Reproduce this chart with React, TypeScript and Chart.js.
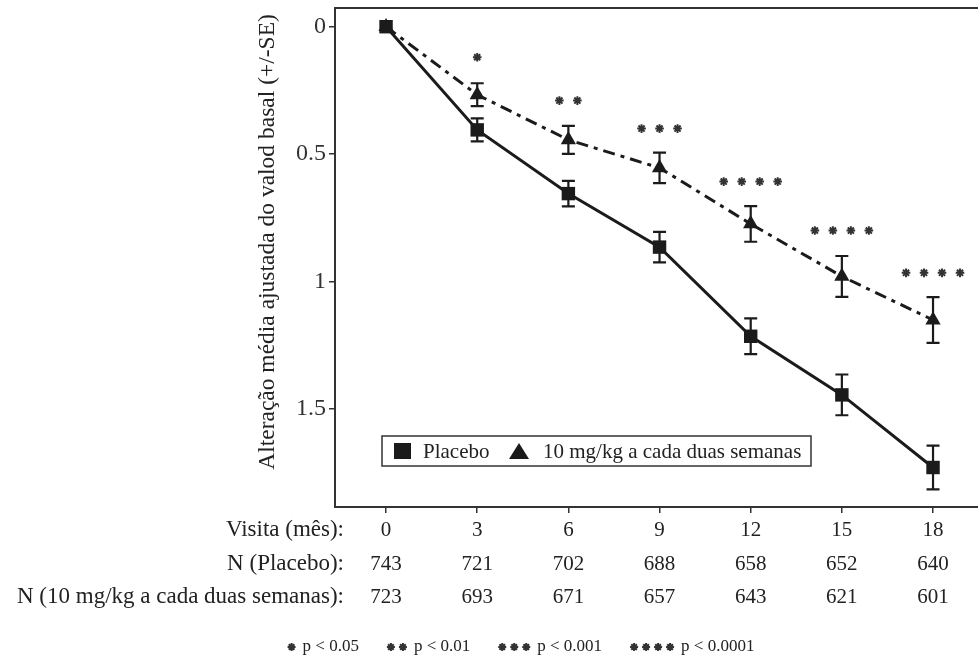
import React, { useEffect, useRef } from 'react';
import { Chart, registerables } from 'chart.js';

Chart.register(...registerables);

// ---- data ----
const months = [0, 3, 6, 9, 12, 15, 18];
const placeboMean = [0, 0.405, 0.655, 0.865, 1.215, 1.445, 1.73];
const placeboSE = [0, 0.045, 0.05, 0.06, 0.07, 0.08, 0.086];
const drugMean = [0, 0.267, 0.444, 0.554, 0.774, 0.98, 1.151];
const drugSE = [0, 0.045, 0.055, 0.06, 0.07, 0.08, 0.09];
const starCounts = [0, 1, 2, 3, 4, 4, 4];
const starLevels = [0, 0.12, 0.29, 0.4, 0.608, 0.8, 0.966];
const nPlacebo = [743, 721, 702, 688, 658, 652, 640];
const nDrug = [723, 693, 671, 657, 643, 621, 601];
const yTicks = [0, 0.5, 1, 1.5];
const seriesNames = ['Placebo', '10 mg/kg a cada duas semanas'];
const rowLabels = ['Visita (mês):', 'N (Placebo):', 'N (10 mg/kg a cada duas semanas):'];
const footStars = [1, 2, 3, 4];
const footTexts = ['p < 0.05', 'p < 0.01', 'p < 0.001', 'p < 0.0001'];
const yTitle = 'Alteração média ajustada do valod basal (+/-SE)';

const W = 978;
const H = 661;
const serif = '"Liberation Serif", "Times New Roman", serif';
const ink = '#1b1b1b';
const textInk = '#222';

function asterisk(ctx: CanvasRenderingContext2D, x: number, y: number, r: number) {
  ctx.beginPath();
  for (let k = 0; k < 4; k++) {
    const a = (k * Math.PI) / 4;
    ctx.moveTo(x + Math.cos(a) * r, y + Math.sin(a) * r);
    ctx.lineTo(x - Math.cos(a) * r, y - Math.sin(a) * r);
  }
  ctx.stroke();
}

export default function App() {
  const ref = useRef<HTMLCanvasElement>(null);

  useEffect(() => {
    const canvas = ref.current;
    if (!canvas) return;

    const overlay = {
      id: 'overlay',
      beforeDatasetsDraw(chart: any) {
        const { ctx, chartArea, scales } = chart;
        const x = scales.x;
        const y = scales.y;
        ctx.save();
        ctx.strokeStyle = '#333';
        ctx.lineWidth = 2;
        ctx.beginPath();
        ctx.moveTo(chartArea.left, chartArea.top);
        ctx.lineTo(chartArea.right, chartArea.top);
        ctx.stroke();

        ctx.strokeStyle = ink;
        ctx.lineWidth = 2.2;
        const sets: [number[], number[]][] = [
          [placeboMean, placeboSE],
          [drugMean, drugSE],
        ];
        sets.forEach(([m, se]) => {
          months.forEach((mo, i) => {
            if (!se[i]) return;
            const px = x.getPixelForValue(mo);
            const y1 = y.getPixelForValue(m[i] - se[i]);
            const y2 = y.getPixelForValue(m[i] + se[i]);
            ctx.beginPath();
            ctx.moveTo(px, y1);
            ctx.lineTo(px, y2);
            ctx.moveTo(px - 6.5, y1);
            ctx.lineTo(px + 6.5, y1);
            ctx.moveTo(px - 6.5, y2);
            ctx.lineTo(px + 6.5, y2);
            ctx.stroke();
          });
        });
        ctx.restore();
      },
      afterDraw(chart: any) {
        const { ctx, scales } = chart;
        const x = scales.x;
        const y = scales.y;
        ctx.save();

        // significance stars
        ctx.strokeStyle = '#333';
        ctx.lineWidth = 2;
        months.forEach((mo, i) => {
          const n = starCounts[i];
          if (!n) return;
          const cx = x.getPixelForValue(mo);
          const cy = y.getPixelForValue(starLevels[i]);
          for (let k = 0; k < n; k++) {
            asterisk(ctx, cx + (k - (n - 1) / 2) * 18, cy, 4.3);
          }
        });

        // legend box
        ctx.strokeStyle = '#333';
        ctx.lineWidth = 1.5;
        ctx.strokeRect(382, 436, 429, 30);
        ctx.fillStyle = ink;
        ctx.fillRect(394, 443, 17, 16);
        ctx.beginPath();
        ctx.moveTo(519, 443);
        ctx.lineTo(529, 459);
        ctx.lineTo(509, 459);
        ctx.closePath();
        ctx.fill();
        ctx.fillStyle = textInk;
        ctx.font = `21px ${serif}`;
        ctx.textAlign = 'left';
        ctx.textBaseline = 'middle';
        ctx.fillText(seriesNames[0], 423, 452);
        ctx.fillText(seriesNames[1], 543, 452);

        // y title
        ctx.save();
        ctx.translate(268, 242);
        ctx.rotate(-Math.PI / 2);
        ctx.font = `23.5px ${serif}`;
        ctx.textAlign = 'center';
        ctx.textBaseline = 'middle';
        ctx.fillText(yTitle, 0, 0);
        ctx.restore();

        // table under the axis
        const rowY = [530, 564, 597];
        ctx.font = `23px ${serif}`;
        ctx.textAlign = 'right';
        ctx.textBaseline = 'middle';
        rowLabels.forEach((t, r) => ctx.fillText(t, 344, rowY[r]));
        ctx.font = `21px ${serif}`;
        ctx.textAlign = 'center';
        const rows = [months, nPlacebo, nDrug];
        rows.forEach((vals, r) => {
          vals.forEach((v, i) => {
            ctx.fillText(String(v), x.getPixelForValue(months[i]), rowY[r]);
          });
        });

        // footnote
        ctx.font = `17px ${serif}`;
        ctx.textAlign = 'left';
        const starGap = 12;
        const afterStars = 7;
        const groupGap = 28;
        let total = 0;
        footStars.forEach((n, g) => {
          total += (n - 1) * starGap + 8 + afterStars + ctx.measureText(footTexts[g]).width;
          if (g < footStars.length - 1) total += groupGap;
        });
        let fx = 521 - total / 2;
        const fy = 647;
        ctx.strokeStyle = '#333';
        ctx.lineWidth = 2;
        footStars.forEach((n, g) => {
          for (let k = 0; k < n; k++) {
            asterisk(ctx, fx + 4 + k * starGap, fy, 4);
          }
          fx += (n - 1) * starGap + 8 + afterStars;
          ctx.fillText(footTexts[g], fx, fy);
          fx += ctx.measureText(footTexts[g]).width + groupGap;
        });

        ctx.restore();
      },
    };

    const chart = new Chart(canvas, {
      type: 'line',
      data: {
        datasets: [
          {
            label: seriesNames[0],
            data: months.map((m, i) => ({ x: m, y: placeboMean[i] })),
            borderColor: ink,
            backgroundColor: ink,
            borderWidth: 3,
            pointStyle: 'rect',
            pointRadius: 9.5,
            pointBorderWidth: 0,
            pointBackgroundColor: ink,
            tension: 0,
          },
          {
            label: seriesNames[1],
            data: months.map((m, i) => ({ x: m, y: drugMean[i] })),
            borderColor: ink,
            backgroundColor: ink,
            borderWidth: 3,
            borderDash: [12, 6, 4, 6],
            pointStyle: 'triangle',
            pointRadius: 8.8,
            pointBorderWidth: 0,
            pointBackgroundColor: ink,
            tension: 0,
          },
        ],
      },
      options: {
        responsive: false,
        animation: false,
        events: [],
        layout: { autoPadding: false, padding: { top: 8, left: 0, right: 0, bottom: 0 } },
        plugins: { legend: { display: false }, tooltip: { enabled: false } },
        scales: {
          x: {
            type: 'linear',
            min: -1.68,
            max: 19.48,
            afterBuildTicks: (s: any) => {
              s.ticks = months.map((v) => ({ value: v }));
            },
            afterFit: (s: any) => {
              s.height = 154;
              s.paddingLeft = 0;
              s.paddingRight = 0;
            },
            ticks: { display: false },
            grid: { drawOnChartArea: false, drawTicks: true, tickLength: 6, color: '#333', lineWidth: 1.5 },
            border: { display: true, color: '#333', width: 2 },
          },
          y: {
            type: 'linear',
            reverse: true,
            min: -0.0734,
            max: 1.885,
            afterBuildTicks: (s: any) => {
              s.ticks = yTicks.map((v) => ({ value: v }));
            },
            afterFit: (s: any) => {
              s.width = 335;
              s.paddingTop = 0;
              s.paddingBottom = 0;
            },
            ticks: {
              color: '#333',
              font: { family: serif, size: 24 },
              padding: 3,
              callback: (v: any) => String(v),
            },
            grid: { drawOnChartArea: false, drawTicks: true, tickLength: 6, color: '#333', lineWidth: 1.5 },
            border: { display: true, color: '#333', width: 2 },
          },
        },
      },
      plugins: [overlay],
    } as any);

    return () => chart.destroy();
  }, []);

  return (
    <div style={{ position: 'fixed', left: 0, top: 0, width: W, height: H, background: '#fff' }}>
      <canvas ref={ref} width={W} height={H} style={{ display: 'block', width: W, height: H }} />
    </div>
  );
}
